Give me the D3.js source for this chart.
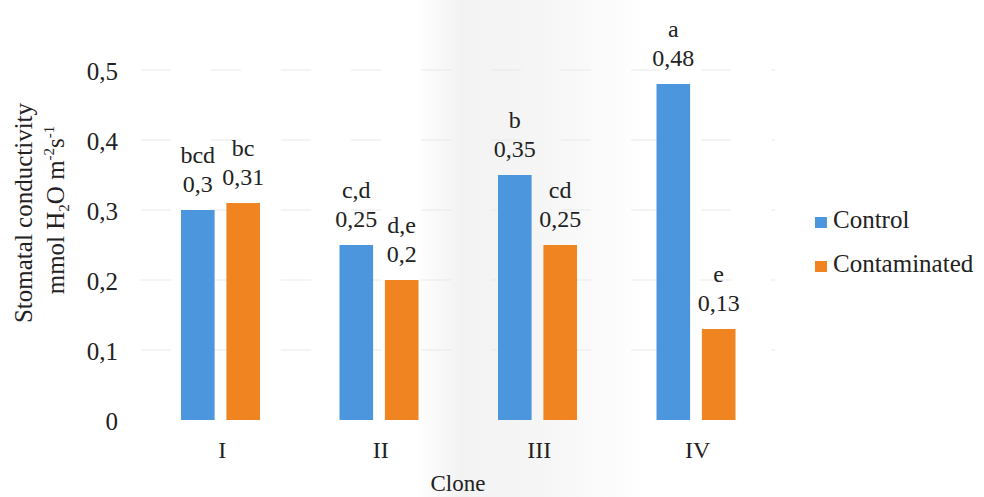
<!DOCTYPE html>
<html>
<head>
<meta charset="utf-8">
<script src="https://cdn.jsdelivr.net/npm/d3@7/dist/d3.min.js"></script>
<style>
  html, body { margin: 0; padding: 0; background: #fff; }
  svg { display: block; }
</style>
</head>
<body>
<svg id="chart" width="984" height="497"></svg>
<script>
// Stomatal conductivity per clone, control vs contaminated
const clones = ["I", "II", "III", "IV"];
const series = ["Control", "Contaminated"];
const controlValues = [0.30, 0.25, 0.35, 0.48];
const contaminatedValues = [0.31, 0.20, 0.25, 0.13];
const controlLetters = ["bcd", "c,d", "b", "a"];
const contaminatedLetters = ["bc", "d,e", "cd", "e"];
const yTicks = [0, 0.1, 0.2, 0.3, 0.4, 0.5];
const colors = ["#4b96dc", "#f08420"];

const valuesBySeries = [controlValues, contaminatedValues];
const lettersBySeries = [controlLetters, contaminatedLetters];

const SERIF = "'Liberation Serif', 'Times New Roman', serif";
const INK = "#222";

const svg = d3.select("#chart");
const fmt = v => String(v).replace(".", ",");

// every label uses the same serif face
function serif(sel, size) {
  return sel.style("font-family", SERIF).style("font-size", size + "px").attr("fill", INK);
}

const x = d3.scaleBand().domain(clones).range([141, 775]).paddingInner(0).paddingOuter(0);
const x1 = d3.scaleBand().domain(series).range([40, 119]).paddingInner(0.26).paddingOuter(0);
const y = d3.scaleLinear().domain([0, 0.5]).range([420, 70]);

// soft grey band across the middle of the page
const defs = svg.append("defs");
const grad = defs.append("linearGradient").attr("id", "band").attr("x1", "0").attr("x2", "1").attr("y1", "0").attr("y2", "0");
grad.append("stop").attr("offset", "0").attr("stop-color", "#e8e8e8").attr("stop-opacity", 0);
grad.append("stop").attr("offset", "0.2").attr("stop-color", "#e8e8e8").attr("stop-opacity", 0.55);
grad.append("stop").attr("offset", "0.55").attr("stop-color", "#e8e8e8").attr("stop-opacity", 0.4);
grad.append("stop").attr("offset", "1").attr("stop-color", "#e8e8e8").attr("stop-opacity", 0);
svg.append("rect").attr("x", 415).attr("y", 0).attr("width", 235).attr("height", 497).attr("fill", "url(#band)");

// faint gridlines
svg.append("g")
  .selectAll("line")
  .data(yTicks.filter(t => t > 0))
  .join("line")
  .attr("x1", 141).attr("x2", 775)
  .attr("y1", d => y(d)).attr("y2", d => y(d))
  .attr("stroke", "#e9e9e9").attr("stroke-width", 1)
  .attr("stroke-dasharray", "30 40");

// y axis: labels only
const yAxis = d3.axisLeft(y).tickValues(yTicks).tickFormat(fmt).tickSize(0).tickPadding(0);
const yg = svg.append("g").attr("transform", "translate(118,0)").call(yAxis);
yg.select(".domain").remove();
serif(yg.selectAll("text"), 25).attr("dy", "0.38em");

// x axis: labels only
const xAxis = d3.axisBottom(x).tickSize(0).tickPadding(0);
const xg = svg.append("g").attr("transform", "translate(0,441)").call(xAxis);
xg.select(".domain").remove();
serif(xg.selectAll("text"), 24).attr("dy", "0.71em").attr("dx", 2);

// bars with value and significance labels
const groups = svg.append("g").selectAll("g")
  .data(clones)
  .join("g")
  .attr("transform", d => `translate(${x(d)},0)`);

series.forEach((s, si) => {
  const vals = valuesBySeries[si];
  const lets = lettersBySeries[si];
  groups.append("rect")
    .attr("x", x1(s))
    .attr("width", x1.bandwidth())
    .attr("y", (d, i) => y(vals[i]))
    .attr("height", (d, i) => y(0) - y(vals[i]))
    .attr("fill", colors[si]);
  serif(groups.append("text"), 24)
    .attr("x", x1(s) + x1.bandwidth() / 2)
    .attr("y", (d, i) => y(vals[i]) - 18)
    .attr("text-anchor", "middle")
    .text((d, i) => fmt(vals[i]));
  serif(groups.append("text"), 24)
    .attr("x", x1(s) + x1.bandwidth() / 2)
    .attr("y", (d, i) => y(vals[i]) - 47)
    .attr("text-anchor", "middle")
    .text((d, i) => lets[i]);
});

// axis titles
serif(svg.append("text"), 23)
  .attr("x", 458).attr("y", 491)
  .attr("text-anchor", "middle")
  .text("Clone");

serif(svg.append("text"), 25)
  .attr("transform", "translate(32,213) rotate(-90)")
  .attr("text-anchor", "middle")
  .text("Stomatal conductivity");

const t2 = serif(svg.append("text"), 25)
  .attr("transform", "translate(64,210) rotate(-90)")
  .attr("text-anchor", "middle");
t2.append("tspan").text("mmol H");
t2.append("tspan").style("font-size", "15px").attr("dy", 5).text("2");
t2.append("tspan").attr("dy", -5).text("O m");
t2.append("tspan").style("font-size", "15px").attr("dy", -10).text("-2");
t2.append("tspan").attr("dy", 10).text("s");
t2.append("tspan").style("font-size", "15px").attr("dy", -10).text("-1");

// legend
const legend = svg.append("g").selectAll("g")
  .data(series)
  .join("g")
  .attr("transform", (d, i) => `translate(815,${228 + i * 44})`);
legend.append("rect")
  .attr("x", 0).attr("y", -11).attr("width", 12).attr("height", 11)
  .attr("fill", (d, i) => colors[i]);
serif(legend.append("text"), 25)
  .attr("x", 18).attr("y", 0)
  .text(d => d);
</script>
</body>
</html>
